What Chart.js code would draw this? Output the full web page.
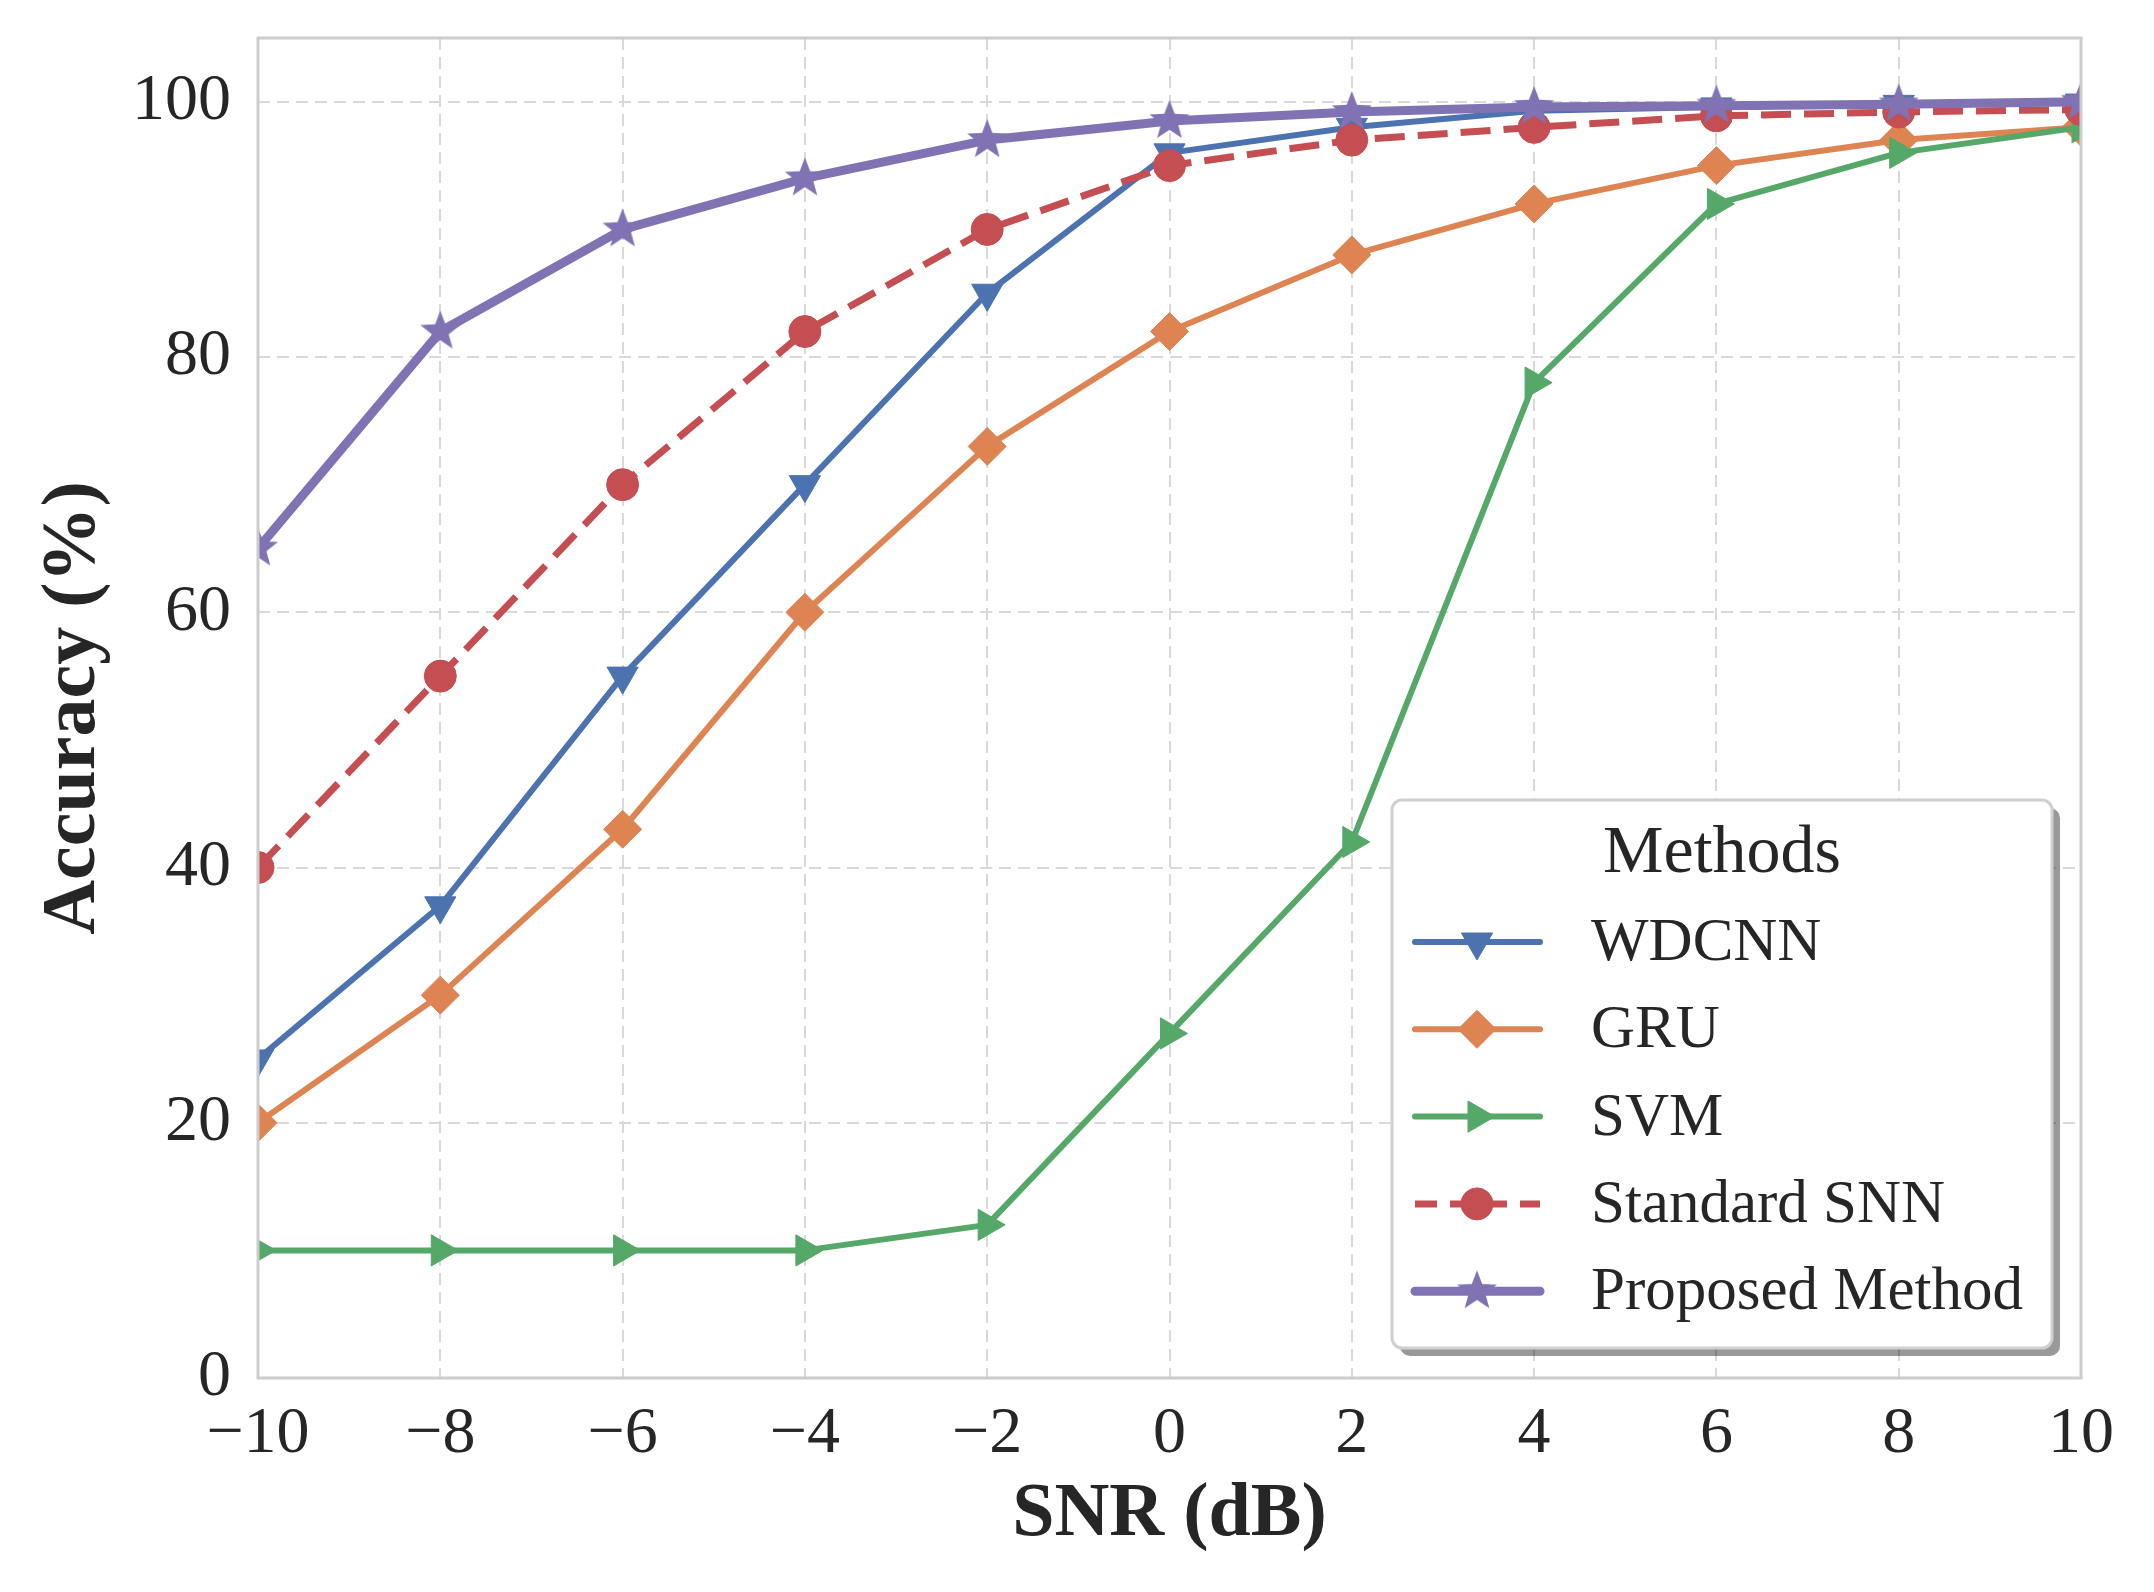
<!DOCTYPE html>
<html>
<head>
<meta charset="utf-8">
<script src="https://cdn.jsdelivr.net/npm/chart.js@4.4.0/dist/chart.umd.min.js"></script>
<style>
  html, body { margin: 0; padding: 0; background: #fff; }
  #wrap { width: 2154px; height: 1592px; }
</style>
</head>
<body>
<div id="wrap"><canvas id="chart" width="2154" height="1592"></canvas></div>
<script>
// values
const snr = [-10, -8, -6, -4, -2, 0, 2, 4, 6, 8, 10];
const wdcnn = [25, 37, 55, 70, 85, 96, 98, 99.3, 99.6, 99.8, 99.9];
const gru = [20, 30, 43, 60, 73, 82, 88, 92, 95, 97, 98];
const svm = [10, 10, 10, 10, 12, 27, 42, 78, 92, 96, 98];
const standardSnn = [40, 55, 70, 82, 90, 95, 97, 98, 98.9, 99.2, 99.4];
const proposed = [65, 82, 90, 94, 97, 98.5, 99.2, 99.6, 99.7, 99.8, 100];
const xTicks = [-10, -8, -6, -4, -2, 0, 2, 4, 6, 8, 10];
const yTicks = [0, 20, 40, 60, 80, 100];
const labels = ["WDCNN", "GRU", "SVM", "Standard SNN", "Proposed Method"];

const SERIF = "'Liberation Serif', 'Times New Roman', serif";
const TEXT = "#262626";

function starImage(r, color) {
  const c = document.createElement("canvas");
  c.width = c.height = Math.ceil(2 * r + 2);
  const g = c.getContext("2d");
  const cx = c.width / 2, cy = c.height / 2;
  g.beginPath();
  for (let i = 0; i < 10; i++) {
    const rad = i % 2 === 0 ? r : r * 0.42;
    const a = -Math.PI / 2 + i * Math.PI / 5;
    g.lineTo(cx + rad * Math.cos(a), cy + rad * Math.sin(a));
  }
  g.closePath();
  g.fillStyle = color;
  g.fill();
  return c;
}

const toPts = (arr) => snr.map((x, i) => ({ x: x, y: arr[i] }));

const series = [
  { label: labels[0], data: wdcnn, color: "#4C72B0", width: 6, style: "triangle", rot: 180, r: 18, order: 5 },
  { label: labels[1], data: gru, color: "#DD8452", width: 6, style: "rectRot", rot: 0, r: 19, order: 4 },
  { label: labels[2], data: svm, color: "#55A868", width: 6, style: "triangle", rot: 90, r: 18, order: 3 },
  { label: labels[3], data: standardSnn, color: "#C44E52", width: 7, style: "circle", rot: 0, r: 16, order: 2, dash: [30, 13] },
  { label: labels[4], data: proposed, color: "#8172B3", width: 9, style: "star", rot: 0, r: 20, order: 1 },
];
series[4].style = starImage(21, series[4].color);

const datasets = series.map((s) => ({
  label: s.label,
  data: toPts(s.data),
  borderColor: s.color,
  backgroundColor: s.color,
  borderWidth: s.width,
  borderDash: s.dash || [],
  borderCapStyle: s.dash ? "butt" : "round",
  borderJoinStyle: "round",
  pointStyle: s.style,
  pointRotation: s.rot,
  pointRadius: s.r,
  pointBorderWidth: 1,
  pointBorderColor: s.color,
  pointBackgroundColor: s.color,
  tension: 0,
  clip: 0,
  order: s.order,
}));

const framePlugin = {
  id: "frame",
  afterDatasetsDraw(chart) {
    const { ctx, chartArea: a } = chart;
    ctx.save();
    ctx.strokeStyle = "#cccccc";
    ctx.lineWidth = 3;
    ctx.strokeRect(a.left, a.top, a.right - a.left, a.bottom - a.top);
    ctx.restore();
  },
};

const legendPlugin = {
  id: "boxLegend",
  afterDraw(chart) {
    const { ctx, chartArea: a } = chart;
    const w = 660, h = 548;
    const x0 = a.right - 29 - w, y0 = a.bottom - 30 - h;
    ctx.save();
    const box = (x, y) => {
      ctx.beginPath();
      ctx.roundRect(x, y, w, h, 10);
    };
    box(x0 + 8, y0 + 8);
    ctx.fillStyle = "rgba(0,0,0,0.4)";
    ctx.fill();
    box(x0, y0);
    ctx.fillStyle = "#ffffff";
    ctx.fill();
    ctx.strokeStyle = "#d0d0d0";
    ctx.lineWidth = 3;
    ctx.stroke();

    ctx.fillStyle = TEXT;
    ctx.textBaseline = "middle";
    ctx.textAlign = "center";
    ctx.font = "68px " + SERIF;
    ctx.fillText("Methods", x0 + w / 2, y0 + 54);

    ctx.textAlign = "left";
    ctx.font = "61px " + SERIF;
    series.forEach((s, i) => {
      const cy = y0 + 142 + i * 87.3;
      const lx0 = x0 + 23, lx1 = x0 + 148, mx = x0 + 85;
      ctx.save();
      ctx.strokeStyle = s.color;
      ctx.lineWidth = s.width;
      ctx.lineCap = s.dash ? "butt" : "round";
      ctx.setLineDash(s.dash ? [22, 13] : []);
      ctx.beginPath();
      ctx.moveTo(lx0, cy);
      ctx.lineTo(lx1, cy);
      ctx.stroke();
      ctx.restore();
      ctx.save();
      ctx.fillStyle = s.color;
      ctx.strokeStyle = s.color;
      ctx.lineWidth = 1;
      Chart.helpers.drawPoint(ctx, { pointStyle: s.style, radius: s.r, rotation: s.rot, borderWidth: 1 }, mx, cy);
      ctx.restore();
      ctx.fillStyle = TEXT;
      ctx.fillText(s.label, x0 + 199, cy + 2);
    });
    ctx.restore();
  },
};

new Chart(document.getElementById("chart").getContext("2d"), {
  type: "line",
  data: { datasets: datasets },
  options: {
    responsive: false,
    animation: false,
    devicePixelRatio: 1,
    layout: { padding: { left: 0, right: 73, top: 38, bottom: 0 } },
    plugins: { legend: { display: false }, tooltip: { enabled: false } },
    scales: {
      x: {
        type: "linear",
        min: -10,
        max: 10,
        afterBuildTicks: (scale) => { scale.ticks = xTicks.map((v) => ({ value: v })); },
        afterFit: (scale) => { scale.height = 214; },
        grid: { color: "#d9d9d9", lineWidth: 2, drawTicks: false },
        border: { display: false, dash: [12, 7] },
        ticks: {
          padding: 17,
          color: TEXT,
          font: { family: SERIF, size: 66 },
          maxRotation: 0,
          callback: (v) => (v < 0 ? "\u2212" + Math.abs(v) : String(v)),
        },
        title: {
          display: true,
          text: "SNR (dB)",
          color: TEXT,
          font: { family: SERIF, size: 76, weight: "bold" },
          padding: { top: 0, bottom: 31 },
        },
      },
      y: {
        type: "linear",
        min: 0,
        max: 105,
        afterBuildTicks: (scale) => { scale.ticks = yTicks.map((v) => ({ value: v })); },
        afterFit: (scale) => { scale.width = 258; },
        grid: { color: "#d9d9d9", lineWidth: 2, drawTicks: false },
        border: { display: false, dash: [12, 7] },
        ticks: {
          padding: 27,
          color: TEXT,
          font: { family: SERIF, size: 66, lineHeight: 0.2 },
        },
        title: {
          display: true,
          text: "Accuracy (%)",
          color: TEXT,
          font: { family: SERIF, size: 76, weight: "bold" },
          padding: { top: 29, bottom: 0 },
        },
      },
    },
  },
  plugins: [framePlugin, legendPlugin],
});
</script>
</body>
</html>
